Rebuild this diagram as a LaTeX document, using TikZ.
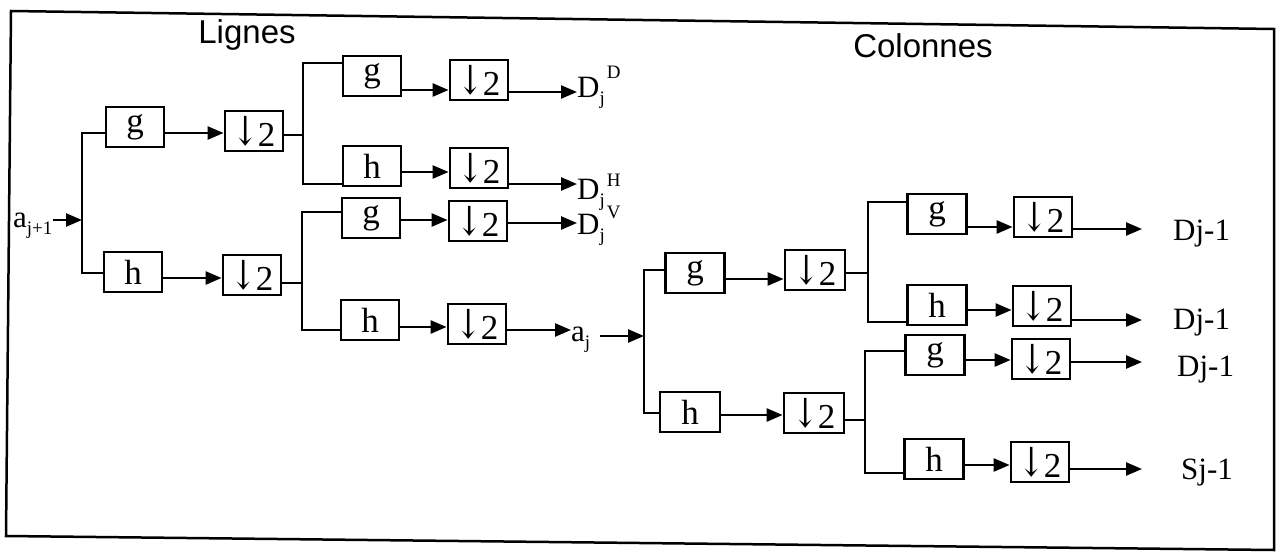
\documentclass[tikz,border=0pt]{standalone}
\usepackage{fontspec}
\setmainfont{Liberation Serif}
\newfontfamily\titlefont{Liberation Sans}
\newfontfamily\arrfont{DejaVu Serif}
\usetikzlibrary{arrows.meta}
\newcommand{\subtxt}[1]{\raisebox{-7pt}{\fontsize{19}{19}\selectfont #1}}
\newcommand{\suptxt}[2]{\kern2pt\raisebox{#1}{\fontsize{19}{19}\selectfont #2}}
\newcommand{\dn}{\raisebox{1pt}{\scalebox{0.9}[1.15]{\arrfont ↓}}\kern-1pt 2}
\begin{document}
\begin{tikzpicture}[x=1pt,y=-1pt,
  fbox/.style={draw,line width=2.8pt,inner sep=0pt,minimum width=58pt,minimum height=40pt,font=\fontsize{35}{35}\selectfont},
  conn/.style={line width=2.5pt},
  arr/.style={line width=2.5pt,-{Triangle[length=16pt,width=13pt]}},
  lbl/.style={font=\fontsize{31}{31}\selectfont,inner sep=0pt},
  ttl/.style={font=\titlefont\fontsize{33}{33}\selectfont,inner sep=0pt}]
\useasboundingbox (0,0) rectangle (1277,554);
\draw[line width=2.5pt] (11,11) -- (1274,29) -- (1274,550) -- (6,536) -- cycle;

% titles
\node[ttl,anchor=base] (lig) at (247,43) {Lignes};
\node[ttl,anchor=base] (col) at (923,57) {Colonnes};

% input
\node[lbl,anchor=base west] (a1) at (13,227) {a\subtxt{j+1}};
\coordinate (s0) at (82,220);
\draw[arr] (a1.east |- s0) -- (s0);

% ---------- Lignes, level 1
\node[fbox] (g1) at (135,127) {g};
\node[fbox] (d1) at (254,131) {\dn};
\node[fbox] (h1) at (133,272) {h};
\node[fbox] (d2) at (252,275) {\dn};
\draw[conn] (g1.west |- 0,133) -- (82,133) -- (82,273) -- (h1.west |- 0,273);
\draw[arr] (g1.east |- 0,133) -- (d1.west |- 0,133);
\draw[arr] (h1.east |- 0,278) -- (d2.west |- 0,278);

% ---------- Lignes, level 2
\node[fbox] (gD) at (372,76) {g};
\node[fbox] (dD) at (479,80) {\dn};
\node[fbox] (hH) at (372,166) {h};
\node[fbox] (dH) at (479,168) {\dn};
\node[fbox] (gV) at (371,218) {g};
\node[fbox] (dV) at (478,221) {\dn};
\node[fbox] (hA) at (370,320) {h};
\node[fbox] (dA) at (477,324) {\dn};

\draw[conn] (d1.east |- 0,135) -- (303,135);
\draw[conn] (gD.west |- 0,63) -- (303,63) -- (303,184) -- (hH.west |- 0,184);
\draw[conn] (d2.east |- 0,283) -- (302,283);
\draw[conn] (gV.west |- 0,212) -- (302,212) -- (302,330) -- (hA.west |- 0,330);

\draw[arr] (gD.east |- 0,90) -- (dD.west |- 0,90);
\draw[arr] (hH.east |- 0,172) -- (dH.west |- 0,172);
\draw[arr] (gV.east |- 0,220) -- (dV.west |- 0,220);
\draw[arr] (hA.east |- 0,327) -- (dA.west |- 0,327);

\node[lbl,anchor=base west] (DD) at (577,97) {D\subtxt{j}\suptxt{19pt}{D}};
\node[lbl,anchor=base west] (DH) at (577,199) {D\subtxt{j}\suptxt{13pt}{H}};
\node[lbl,anchor=base west] (DV) at (577,234) {D\subtxt{j}\suptxt{16pt}{V}};
\node[lbl,anchor=base west] (aj) at (571,341) {a\subtxt{j}};

\draw[arr] (dD.east |- 0,92) -- (DD.west |- 0,92);
\draw[arr] (dH.east |- 0,184) -- (DH.west |- 0,184);
\draw[arr] (dV.east |- 0,223) -- (DV.west |- 0,223);
\draw[arr] (dA.east |- 0,330) -- (aj.west |- 0,330);

\coordinate (s3) at (644,336);
\draw[arr] ([xshift=10pt]aj.east |- s3) -- (s3);

% ---------- Colonnes, level 1
\node[fbox,minimum width=59pt] (gR1) at (695,273) {g};
\node[fbox,minimum width=60pt] (dR1) at (815,270) {\dn};
\node[fbox,minimum width=60pt] (hR1) at (690,412) {h};
\node[fbox,minimum width=60pt] (dR2) at (814,413) {\dn};
\draw[conn] (gR1.west |- 0,270) -- (644,270) -- (644,413) -- (hR1.west |- 0,413);
\draw[arr] (gR1.east |- 0,279) -- (dR1.west |- 0,279);
\draw[arr] (hR1.east |- 0,415) -- (dR2.west |- 0,415);

% ---------- Colonnes, level 2
\node[fbox,minimum width=59pt] (gB) at (937,214) {g};
\node[fbox] (dB) at (1043,217) {\dn};
\node[fbox,minimum width=59pt] (hB) at (937,305) {h};
\node[fbox] (dB2) at (1042,306) {\dn};
\node[fbox,minimum width=59pt] (gC) at (935,355) {g};
\node[fbox] (dC) at (1041,359) {\dn};
\node[fbox,minimum width=59pt] (hC) at (934,459) {h};
\node[fbox] (dC2) at (1040,462) {\dn};

\draw[conn] (dR1.east |- 0,273) -- (868,273);
\draw[conn] (gB.west |- 0,202) -- (868,202) -- (868,322) -- (hB.west |- 0,322);
\draw[conn] (dR2.east |- 0,420) -- (865,420);
\draw[conn] (gC.west |- 0,351) -- (865,351) -- (865,473) -- (hC.west |- 0,473);

\draw[arr] (gB.east |- 0,227) -- (dB.west |- 0,227);
\draw[arr] (hB.east |- 0,310) -- (dB2.west |- 0,310);
\draw[arr] (gC.east |- 0,360) -- (dC.west |- 0,360);
\draw[arr] (hC.east |- 0,465) -- (dC2.west |- 0,465);

\coordinate (e1) at (1142,229);
\coordinate (e2) at (1142,320);
\coordinate (e3) at (1142,362);
\coordinate (e4) at (1142,469);
\draw[arr] (dB.east |- e1) -- (e1);
\draw[arr] (dB2.east |- e2) -- (e2);
\draw[arr] (dC.east |- e3) -- (e3);
\draw[arr] (dC2.east |- e4) -- (e4);

\node[lbl,anchor=base west] (o1) at (1173,240) {Dj-1};
\node[lbl,anchor=base west] (o2) at (1173,329) {Dj-1};
\node[lbl,anchor=base west] (o3) at (1177,376) {Dj-1};
\node[lbl,anchor=base west] (o4) at (1181,479) {Sj-1};
\end{tikzpicture}
\end{document}
